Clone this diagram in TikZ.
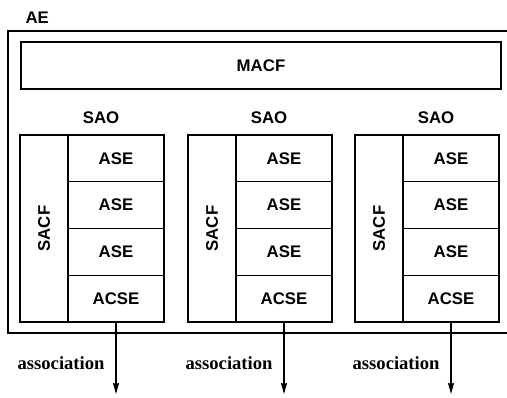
\documentclass[tikz,border=0pt]{standalone}
\usepackage{graphicx}
\usepackage{fontspec}
\setmainfont{Liberation Serif}
\setsansfont{Liberation Sans}
\usepackage{tikz}
\usetikzlibrary{arrows.meta,positioning}

\begin{document}
\begin{tikzpicture}[
  x=1bp,y=-1bp,
  every node/.style={font=\sffamily\bfseries\fontsize{16.8bp}{20bp}\selectfont},
  frame/.style={draw,line width=1.4bp,inner sep=0pt,outer sep=0pt},
  macf/.style={frame,minimum width=480bp,minimum height=47bp},
  sacf/.style={frame,minimum width=48bp,minimum height=187bp},
  ase/.style={frame,minimum width=96bp,minimum height=46.75bp},
  assoc/.style={font=\rmfamily\bfseries\fontsize{18.6bp}{20bp}\selectfont},
  arr/.style={-{Stealth[length=11bp,width=6bp,inset=1bp]},line width=1.4bp}
]
\useasboundingbox (0,0) rectangle (507,397);
% application entity, its right side runs off the page
\node[frame,anchor=north west,minimum width=504bp,minimum height=302bp] (ae) at (8,31) {};
\node[anchor=base west] (aelbl) at (22,23) {AE};
\node[macf,anchor=north west] (macf) at (21,42) {MACF};

% first SAO
\node (sao1) at (101,118) {SAO};
\node[sacf,anchor=north west] (sacf1) at (20,135) {\rotatebox{90}{SACF}};
\node[ase,right=0pt of sacf1.north east,anchor=north west] (ase1a) {ASE};
\node[ase,below=0pt of ase1a] (ase1b) {ASE};
\node[ase,below=0pt of ase1b] (ase1c) {ASE};
\node[ase,below=0pt of ase1c] (acse1) {ACSE};

% second SAO
\node (sao2) at (269,118) {SAO};
\node[sacf,anchor=north west] (sacf2) at (188,135) {\rotatebox{90}{SACF}};
\node[ase,right=0pt of sacf2.north east,anchor=north west] (ase2a) {ASE};
\node[ase,below=0pt of ase2a] (ase2b) {ASE};
\node[ase,below=0pt of ase2b] (ase2c) {ASE};
\node[ase,below=0pt of ase2c] (acse2) {ACSE};

% third SAO
\node (sao3) at (436,118) {SAO};
\node[sacf,anchor=north west] (sacf3) at (355,135) {\rotatebox{90}{SACF}};
\node[ase,right=0pt of sacf3.north east,anchor=north west] (ase3a) {ASE};
\node[ase,below=0pt of ase3a] (ase3b) {ASE};
\node[ase,below=0pt of ase3b] (ase3c) {ASE};
\node[ase,below=0pt of ase3c] (acse3) {ACSE};

% associations
\coordinate[below=72bp of acse1.south] (out1);
\coordinate[below=72bp of acse2.south] (out2);
\coordinate[below=72bp of acse3.south] (out3);
\draw[arr] (acse1) -- (out1);
\draw[arr] (acse2) -- (out2);
\draw[arr] (acse3) -- (out3);
\node[assoc,anchor=base east] (as1) at (108,369) {association};
\node[assoc,anchor=base east] (as2) at (276,369) {association};
\node[assoc,anchor=base east] (as3) at (443,369) {association};
\end{tikzpicture}
\end{document}
